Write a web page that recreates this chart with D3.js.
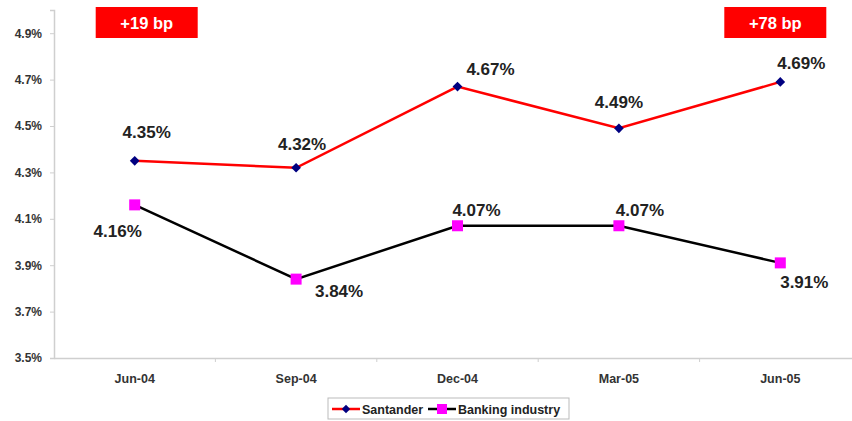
<!DOCTYPE html>
<html>
<head>
<meta charset="utf-8">
<script src="https://cdn.jsdelivr.net/npm/d3@7"></script>
<style>
  body { margin: 0; background: #fff; }
  text { font-family: Arial, "Liberation Sans", sans-serif; }
</style>
</head>
<body>
<div id="chart"></div>
<script>
/* DATA */
const quarters = ["Jun-04", "Sep-04", "Dec-04", "Mar-05", "Jun-05"];
const santander = [4.35, 4.32, 4.67, 4.49, 4.69];
const banking = [4.16, 3.84, 4.07, 4.07, 3.91];
const yTicks = [3.5, 3.7, 3.9, 4.1, 4.3, 4.5, 4.7, 4.9];
const badges = [{ text: "+19 bp", at: "Jun-04" }, { text: "+78 bp", at: "Jun-05" }];

// label offsets (dx, dy) from each point
const santanderOffsets = [[12, -29], [6, -24], [33, -18], [0, -26], [21, -19]];
const bankingOffsets = [[-17, 26], [43, 12], [19, -16], [21, -16], [24, 19]];

const width = 852, height = 421;
const margin = { top: 10, left: 54, bottom: 63, right: -9 };

const svg = d3.select("#chart").append("svg")
  .attr("width", width)
  .attr("height", height);

const xScale = d3.scaleBand()
  .domain(quarters)
  .range([margin.left, width - margin.right]);

const yScale = d3.scaleLinear()
  .domain([3.5, 5.0])
  .range([height - margin.bottom, margin.top]);

const x = d => xScale(d) + xScale.bandwidth() / 2;

// y axis
const yAxis = svg.append("g")
  .attr("transform", `translate(${margin.left},0)`)
  .call(d3.axisLeft(yScale).tickValues(yTicks).tickFormat(d => d.toFixed(1) + "%").tickSizeOuter(0).tickSize(4));
yAxis.select(".domain").attr("stroke", "#cfcfcf").attr("stroke-width", 1.5);
yAxis.selectAll(".tick line").attr("stroke", "#cfcfcf");
yAxis.selectAll(".tick text")
  .attr("x", -12)
  .attr("font-size", 12).attr("font-weight", "bold").attr("fill", "#333");

// x axis
const xAxis = svg.append("g")
  .attr("transform", `translate(0,${yScale(3.5)})`)
  .call(d3.axisBottom(xScale).tickSize(0).tickSizeOuter(0));
xAxis.select(".domain").attr("stroke", "#cfcfcf").attr("stroke-width", 1.5);
xAxis.selectAll(".tick text")
  .attr("y", 16)
  .attr("font-size", 12.5).attr("font-weight", "bold").attr("fill", "#333");
// category boundary ticks
svg.append("g").selectAll("line")
  .data(quarters.slice(1))
  .join("line")
  .attr("x1", d => xScale(d)).attr("x2", d => xScale(d))
  .attr("y1", yScale(3.5)).attr("y2", yScale(3.5) + 4)
  .attr("stroke", "#cfcfcf");

// badges
const badge = svg.append("g").selectAll("g")
  .data(badges)
  .join("g")
  .attr("transform", d => `translate(${x(d.at) + (d.at === "Jun-04" ? 12 : -5)},0)`);
badge.append("rect")
  .attr("x", -51).attr("y", 7)
  .attr("width", 102).attr("height", 31)
  .attr("fill", "#ff0000");
badge.append("text")
  .attr("y", 28.5)
  .attr("text-anchor", "middle")
  .attr("font-size", 16.5).attr("font-weight", "bold").attr("fill", "#fff")
  .text(d => d.text);

const line = d3.line()
  .x((d, i) => x(quarters[i]))
  .y(d => yScale(d));

// banking line
svg.append("path")
  .datum(banking)
  .attr("d", line)
  .attr("fill", "none")
  .attr("stroke", "#000")
  .attr("stroke-width", 2.5);

// santander line
svg.append("path")
  .datum(santander)
  .attr("d", line)
  .attr("fill", "none")
  .attr("stroke", "#ff0000")
  .attr("stroke-width", 2.5);

// markers
svg.append("g").selectAll("rect")
  .data(banking)
  .join("rect")
  .attr("x", (d, i) => x(quarters[i]) - 5.5)
  .attr("y", d => yScale(d) - 5.5)
  .attr("width", 11).attr("height", 11)
  .attr("fill", "#ff00ff");

svg.append("g").selectAll("path")
  .data(santander)
  .join("path")
  .attr("d", d3.symbol(d3.symbolDiamond2, 60))
  .attr("transform", (d, i) => `translate(${x(quarters[i])},${yScale(d)})`)
  .attr("fill", "#000080");

// value labels
function labels(values, offsets) {
  svg.append("g").selectAll("text")
    .data(values)
    .join("text")
    .attr("x", (d, i) => x(quarters[i]) + offsets[i][0])
    .attr("y", (d, i) => yScale(d) + offsets[i][1] + 6)
    .attr("text-anchor", "middle")
    .attr("font-size", 17).attr("font-weight", "bold").attr("fill", "#222")
    .text(d => d.toFixed(2) + "%");
}
labels(santander, santanderOffsets);
labels(banking, bankingOffsets);

// legend
const legend = svg.append("g").attr("transform", "translate(328,398)");
legend.append("rect")
  .attr("width", 241).attr("height", 21)
  .attr("fill", "#fff").attr("stroke", "#bbb");
const items = [
  { name: "Santander", color: "#ff0000", marker: "diamond", x: 4 },
  { name: "Banking industry", color: "#000", marker: "square", x: 100 }
];
const item = legend.selectAll("g.item")
  .data(items)
  .join("g")
  .attr("class", "item")
  .attr("transform", d => `translate(${d.x},11)`);
item.append("line")
  .attr("x1", 0).attr("x2", 28)
  .attr("stroke", d => d.color).attr("stroke-width", 2.5);
item.filter(d => d.marker === "diamond").append("path")
  .attr("d", d3.symbol(d3.symbolDiamond2, 45))
  .attr("transform", "translate(14,0)")
  .attr("fill", "#000080");
item.filter(d => d.marker === "square").append("rect")
  .attr("x", 9).attr("y", -5).attr("width", 10).attr("height", 10)
  .attr("fill", "#ff00ff");
item.append("text")
  .attr("x", 30).attr("y", 4.5)
  .attr("font-size", 12.5).attr("font-weight", "bold").attr("fill", "#222")
  .text(d => d.name);
</script>
</body>
</html>
